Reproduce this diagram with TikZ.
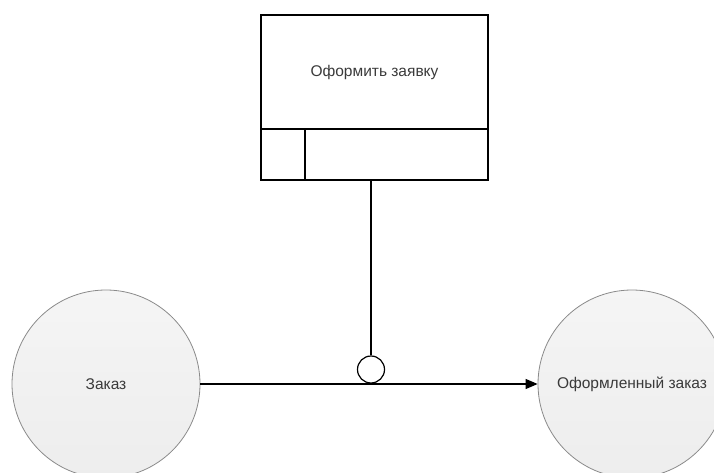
\documentclass[tikz,border=0pt]{standalone}
\usepackage{fontspec}
\setmainfont{Liberation Sans}
\usetikzlibrary{arrows.meta, positioning}

\definecolor{txtgray}{HTML}{3A3A3A}
\definecolor{rimgray}{HTML}{8A8A8A}

\begin{document}
\begin{tikzpicture}[x=1pt, y=-1pt,
        every node/.style={font=\fontsize{15.5}{18}\selectfont, text=txtgray},
        func/.style={draw, rectangle, line width=1.2pt, minimum width=227pt, inner sep=0pt, outer sep=0pt},
        data/.style={draw=rimgray, circle, line width=0.8pt, minimum size=188pt, inner sep=0pt, top color=black!4, bottom color=black!7},
        ctrl/.style={draw, circle, fill=white, line width=1.2pt, minimum size=27pt, inner sep=0pt},
        arrow/.style={-{Triangle[length=12pt, width=10pt]}, line width=1.2pt}
    ]
        \useasboundingbox (0,0) rectangle (714,473);

        % Function block
        \node[func, minimum height=114pt] (proc) at (374.5,72) {Оформить заявку};
        \node[func, minimum height=51pt, below=0pt of proc] (procbar) {};
        \node[func, minimum width=44pt, minimum height=51pt, anchor=west] (mech) at (procbar.west) {};

        % Events
        \node[data] (order) at (106,384) {Заказ};
        \node[data] (done) at (632,384) {Оформленный заказ};

        % Operator
        \node[ctrl] (op) at (371,369.5) {};

        % Connections
        \draw[line width=1.2pt] (op.north) -- (op.north |- procbar.south);
        \draw[arrow] (order) -- (done);
    \end{tikzpicture}
\end{document}
